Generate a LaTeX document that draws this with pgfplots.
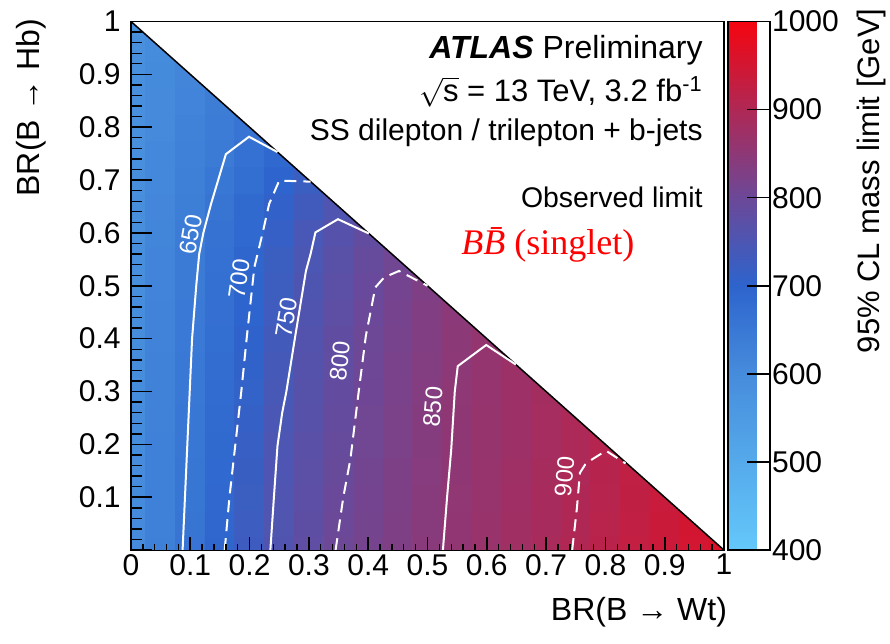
\documentclass[border=0pt]{standalone}
\usepackage{pgfplots}
\pgfplotsset{compat=1.18}
\usepackage{fontspec}
\setmainfont{Liberation Sans}
\newfontfamily\tnr{Liberation Serif}
\newcommand{\fs}[1]{\fontsize{#1}{#1}\selectfont}
\pgfplotsset{colormap={atlas}{rgb255(0cm)=(100,200,250) rgb255(1cm)=(85,170,235) rgb255(2cm)=(70,140,220) rgb255(3cm)=(45,100,205) rgb255(4cm)=(108,72,152) rgb255(5cm)=(175,40,85) rgb255(6cm)=(245,5,15)}}
\begin{document}
\begin{tikzpicture}
\begin{axis}[
  name=ax, scale only axis, width=296.5pt, height=264.3pt,
  xmin=0, xmax=1, ymin=0, ymax=1,
  axis on top,
  axis line style={black, line width=0.6pt},
  xtick={0,0.1,0.2,0.3,0.4,0.5,0.6,0.7,0.8,0.9,1},
  xticklabels={0,0.1,0.2,0.3,0.4,0.5,0.6,0.7,0.8,0.9,1},
  ytick=\empty,
  minor x tick num=4,
  xtick pos=bottom,
  tick align=inside, major tick length=6.5pt, minor tick length=3pt,
  major tick style={draw=black, line width=0.8pt},
  minor tick style={draw=black, line width=0.7pt},
  tick label style={font=\fs{15}},
  xticklabel style={yshift=1.5pt},
  every axis x label/.style={at={(rel axis cs:1,0)}, xshift=5pt, yshift=-20pt, anchor=north east, font=\fs{16}},
  every axis y label/.style={at={(rel axis cs:0,1)}, xshift=-39pt, yshift=5pt, rotate=90, anchor=south east, font=\fs{16}},
  xlabel={BR(B → Wt)},
  ylabel={BR(B → Hb)},
  colormap name=atlas,
  point meta min=400, point meta max=1000,
  colorbar,
  colorbar style={at={(parent axis.north east)}, anchor=north west, xshift=-6.5pt, width=21pt,
    ytick={400,500,600,700,800,900,1000},
    yticklabels={400,500,600,700,800,900,1000},
    ytick pos=right, yticklabel pos=right,
    tick align=inside, major tick length=11.5pt,
    major tick style={draw=black, line width=0.8pt},
    axis line style={black, line width=0.6pt},
    yticklabel style={font=\fs{15}, xshift=-2.5pt},
    every axis y label/.style={at={(rel axis cs:1,1)}, xshift=40pt, yshift=10pt, rotate=90, anchor=north east, font=\fs{15.5}},
    ylabel={95\% CL mass limit [GeV]}},
]
\addplot[matrix plot*, mesh/cols=21, point meta=explicit] table[row sep=\\, meta index=2] {
x y z\\
0 0 605\\ 0.05 0 631\\ 0.1 0 659\\ 0.15 0 694\\ 0.2 0 727\\ 0.25 0 757\\ 0.3 0 780\\ 0.35 0 801\\ 0.4 0 815\\ 0.45 0 829\\ 0.5 0 843\\ 0.55 0 856\\ 0.6 0 867\\ 0.65 0 878\\ 0.7 0 890\\ 0.75 0 902\\ 0.8 0 914\\ 0.85 0 927\\ 0.9 0 940\\ 0.95 0 952\\ 1 0 965\\
0 0.05 604\\ 0.05 0.05 630\\ 0.1 0.05 658\\ 0.15 0.05 692\\ 0.2 0.05 725\\ 0.25 0.05 755\\ 0.3 0.05 777\\ 0.35 0.05 800\\ 0.4 0.05 814\\ 0.45 0.05 828\\ 0.5 0.05 842\\ 0.55 0.05 855\\ 0.6 0.05 866\\ 0.65 0.05 878\\ 0.7 0.05 889\\ 0.75 0.05 901\\ 0.8 0.05 913\\ 0.85 0.05 926\\ 0.9 0.05 939\\ 0.95 0.05 951\\ 1 0.05 951\\
0 0.1 603\\ 0.05 0.1 629\\ 0.1 0.1 656\\ 0.15 0.1 689\\ 0.2 0.1 723\\ 0.25 0.1 754\\ 0.3 0.1 775\\ 0.35 0.1 797\\ 0.4 0.1 812\\ 0.45 0.1 826\\ 0.5 0.1 841\\ 0.55 0.1 854\\ 0.6 0.1 865\\ 0.65 0.1 877\\ 0.7 0.1 888\\ 0.75 0.1 900\\ 0.8 0.1 912\\ 0.85 0.1 925\\ 0.9 0.1 938\\ 0.95 0.1 938\\ 1 0.1 938\\
0 0.15 602\\ 0.05 0.15 628\\ 0.1 0.15 655\\ 0.15 0.15 687\\ 0.2 0.15 720\\ 0.25 0.15 752\\ 0.3 0.15 773\\ 0.35 0.15 794\\ 0.4 0.15 810\\ 0.45 0.15 825\\ 0.5 0.15 839\\ 0.55 0.15 853\\ 0.6 0.15 864\\ 0.65 0.15 876\\ 0.7 0.15 887\\ 0.75 0.15 898\\ 0.8 0.15 911\\ 0.85 0.15 924\\ 0.9 0.15 924\\ 0.95 0.15 924\\ 1 0.15 924\\
0 0.2 601\\ 0.05 0.2 627\\ 0.1 0.2 653\\ 0.15 0.2 684\\ 0.2 0.2 717\\ 0.25 0.2 751\\ 0.3 0.2 771\\ 0.35 0.2 791\\ 0.4 0.2 808\\ 0.45 0.2 823\\ 0.5 0.2 838\\ 0.55 0.2 852\\ 0.6 0.2 863\\ 0.65 0.2 874\\ 0.7 0.2 886\\ 0.75 0.2 897\\ 0.8 0.2 909\\ 0.85 0.2 909\\ 0.9 0.2 909\\ 0.95 0.2 909\\ 1 0.2 909\\
0 0.25 600\\ 0.05 0.25 626\\ 0.1 0.25 652\\ 0.15 0.25 682\\ 0.2 0.25 713\\ 0.25 0.25 747\\ 0.3 0.25 769\\ 0.35 0.25 789\\ 0.4 0.25 807\\ 0.45 0.25 822\\ 0.5 0.25 837\\ 0.55 0.25 852\\ 0.6 0.25 863\\ 0.65 0.25 874\\ 0.7 0.25 885\\ 0.75 0.25 896\\ 0.8 0.25 896\\ 0.85 0.25 896\\ 0.9 0.25 896\\ 0.95 0.25 896\\ 1 0.25 896\\
0 0.3 599\\ 0.05 0.3 625\\ 0.1 0.3 651\\ 0.15 0.3 679\\ 0.2 0.3 709\\ 0.25 0.3 742\\ 0.3 0.3 766\\ 0.35 0.3 786\\ 0.4 0.3 805\\ 0.45 0.3 820\\ 0.5 0.3 836\\ 0.55 0.3 851\\ 0.6 0.3 862\\ 0.65 0.3 873\\ 0.7 0.3 884\\ 0.75 0.3 884\\ 0.8 0.3 884\\ 0.85 0.3 884\\ 0.9 0.3 884\\ 0.95 0.3 884\\ 1 0.3 884\\
0 0.35 598\\ 0.05 0.35 624\\ 0.1 0.35 650\\ 0.15 0.35 678\\ 0.2 0.35 706\\ 0.25 0.35 738\\ 0.3 0.35 763\\ 0.35 0.35 783\\ 0.4 0.35 803\\ 0.45 0.35 819\\ 0.5 0.35 834\\ 0.55 0.35 850\\ 0.6 0.35 861\\ 0.65 0.35 872\\ 0.7 0.35 872\\ 0.75 0.35 872\\ 0.8 0.35 872\\ 0.85 0.35 872\\ 0.9 0.35 872\\ 0.95 0.35 872\\ 1 0.35 872\\
0 0.4 597\\ 0.05 0.4 623\\ 0.1 0.4 648\\ 0.15 0.4 676\\ 0.2 0.4 703\\ 0.25 0.4 734\\ 0.3 0.4 760\\ 0.35 0.4 781\\ 0.4 0.4 801\\ 0.45 0.4 817\\ 0.5 0.4 833\\ 0.55 0.4 848\\ 0.6 0.4 860\\ 0.65 0.4 860\\ 0.7 0.4 860\\ 0.75 0.4 860\\ 0.8 0.4 860\\ 0.85 0.4 860\\ 0.9 0.4 860\\ 0.95 0.4 860\\ 1 0.4 860\\
0 0.45 596\\ 0.05 0.45 622\\ 0.1 0.45 647\\ 0.15 0.45 673\\ 0.2 0.45 700\\ 0.25 0.45 729\\ 0.3 0.45 756\\ 0.35 0.45 778\\ 0.4 0.45 799\\ 0.45 0.45 815\\ 0.5 0.45 831\\ 0.55 0.45 847\\ 0.6 0.45 847\\ 0.65 0.45 847\\ 0.7 0.45 847\\ 0.75 0.45 847\\ 0.8 0.45 847\\ 0.85 0.45 847\\ 0.9 0.45 847\\ 0.95 0.45 847\\ 1 0.45 847\\
0 0.5 595\\ 0.05 0.5 620\\ 0.1 0.5 645\\ 0.15 0.5 671\\ 0.2 0.5 697\\ 0.25 0.5 726\\ 0.3 0.5 753\\ 0.35 0.5 774\\ 0.4 0.5 795\\ 0.45 0.5 812\\ 0.5 0.5 828\\ 0.55 0.5 828\\ 0.6 0.5 828\\ 0.65 0.5 828\\ 0.7 0.5 828\\ 0.75 0.5 828\\ 0.8 0.5 828\\ 0.85 0.5 828\\ 0.9 0.5 828\\ 0.95 0.5 828\\ 1 0.5 828\\
0 0.55 594\\ 0.05 0.55 619\\ 0.1 0.55 643\\ 0.15 0.55 668\\ 0.2 0.55 694\\ 0.25 0.55 722\\ 0.3 0.55 750\\ 0.35 0.55 770\\ 0.4 0.55 790\\ 0.45 0.55 808\\ 0.5 0.55 808\\ 0.55 0.55 808\\ 0.6 0.55 808\\ 0.65 0.55 808\\ 0.7 0.55 808\\ 0.75 0.55 808\\ 0.8 0.55 808\\ 0.85 0.55 808\\ 0.9 0.55 808\\ 0.95 0.55 808\\ 1 0.55 808\\
0 0.6 593\\ 0.05 0.6 616\\ 0.1 0.6 640\\ 0.15 0.6 664\\ 0.2 0.6 688\\ 0.25 0.6 715\\ 0.3 0.6 744\\ 0.35 0.6 765\\ 0.4 0.6 785\\ 0.45 0.6 785\\ 0.5 0.6 785\\ 0.55 0.6 785\\ 0.6 0.6 785\\ 0.65 0.6 785\\ 0.7 0.6 785\\ 0.75 0.6 785\\ 0.8 0.6 785\\ 0.85 0.6 785\\ 0.9 0.6 785\\ 0.95 0.6 785\\ 1 0.6 785\\
0 0.65 592\\ 0.05 0.65 614\\ 0.1 0.65 635\\ 0.15 0.65 658\\ 0.2 0.65 684\\ 0.25 0.65 708\\ 0.3 0.65 732\\ 0.35 0.65 754\\ 0.4 0.65 754\\ 0.45 0.65 754\\ 0.5 0.65 754\\ 0.55 0.65 754\\ 0.6 0.65 754\\ 0.65 0.65 754\\ 0.7 0.65 754\\ 0.75 0.65 754\\ 0.8 0.65 754\\ 0.85 0.65 754\\ 0.9 0.65 754\\ 0.95 0.65 754\\ 1 0.65 754\\
0 0.7 591\\ 0.05 0.7 611\\ 0.1 0.7 631\\ 0.15 0.7 652\\ 0.2 0.7 676\\ 0.25 0.7 700\\ 0.3 0.7 723\\ 0.35 0.7 723\\ 0.4 0.7 723\\ 0.45 0.7 723\\ 0.5 0.7 723\\ 0.55 0.7 723\\ 0.6 0.7 723\\ 0.65 0.7 723\\ 0.7 0.7 723\\ 0.75 0.7 723\\ 0.8 0.7 723\\ 0.85 0.7 723\\ 0.9 0.7 723\\ 0.95 0.7 723\\ 1 0.7 723\\
0 0.75 590\\ 0.05 0.75 609\\ 0.1 0.75 628\\ 0.15 0.75 646\\ 0.2 0.75 668\\ 0.25 0.75 691\\ 0.3 0.75 691\\ 0.35 0.75 691\\ 0.4 0.75 691\\ 0.45 0.75 691\\ 0.5 0.75 691\\ 0.55 0.75 691\\ 0.6 0.75 691\\ 0.65 0.75 691\\ 0.7 0.75 691\\ 0.75 0.75 691\\ 0.8 0.75 691\\ 0.85 0.75 691\\ 0.9 0.75 691\\ 0.95 0.75 691\\ 1 0.75 691\\
0 0.8 589\\ 0.05 0.8 606\\ 0.1 0.8 624\\ 0.15 0.8 641\\ 0.2 0.8 661\\ 0.25 0.8 661\\ 0.3 0.8 661\\ 0.35 0.8 661\\ 0.4 0.8 661\\ 0.45 0.8 661\\ 0.5 0.8 661\\ 0.55 0.8 661\\ 0.6 0.8 661\\ 0.65 0.8 661\\ 0.7 0.8 661\\ 0.75 0.8 661\\ 0.8 0.8 661\\ 0.85 0.8 661\\ 0.9 0.8 661\\ 0.95 0.8 661\\ 1 0.8 661\\
0 0.85 588\\ 0.05 0.85 605\\ 0.1 0.85 621\\ 0.15 0.85 637\\ 0.2 0.85 637\\ 0.25 0.85 637\\ 0.3 0.85 637\\ 0.35 0.85 637\\ 0.4 0.85 637\\ 0.45 0.85 637\\ 0.5 0.85 637\\ 0.55 0.85 637\\ 0.6 0.85 637\\ 0.65 0.85 637\\ 0.7 0.85 637\\ 0.75 0.85 637\\ 0.8 0.85 637\\ 0.85 0.85 637\\ 0.9 0.85 637\\ 0.95 0.85 637\\ 1 0.85 637\\
0 0.9 587\\ 0.05 0.9 603\\ 0.1 0.9 618\\ 0.15 0.9 618\\ 0.2 0.9 618\\ 0.25 0.9 618\\ 0.3 0.9 618\\ 0.35 0.9 618\\ 0.4 0.9 618\\ 0.45 0.9 618\\ 0.5 0.9 618\\ 0.55 0.9 618\\ 0.6 0.9 618\\ 0.65 0.9 618\\ 0.7 0.9 618\\ 0.75 0.9 618\\ 0.8 0.9 618\\ 0.85 0.9 618\\ 0.9 0.9 618\\ 0.95 0.9 618\\ 1 0.9 618\\
0 0.95 586\\ 0.05 0.95 601\\ 0.1 0.95 601\\ 0.15 0.95 601\\ 0.2 0.95 601\\ 0.25 0.95 601\\ 0.3 0.95 601\\ 0.35 0.95 601\\ 0.4 0.95 601\\ 0.45 0.95 601\\ 0.5 0.95 601\\ 0.55 0.95 601\\ 0.6 0.95 601\\ 0.65 0.95 601\\ 0.7 0.95 601\\ 0.75 0.95 601\\ 0.8 0.95 601\\ 0.85 0.95 601\\ 0.9 0.95 601\\ 0.95 0.95 601\\ 1 0.95 601\\
0 1 585\\ 0.05 1 585\\ 0.1 1 585\\ 0.15 1 585\\ 0.2 1 585\\ 0.25 1 585\\ 0.3 1 585\\ 0.35 1 585\\ 0.4 1 585\\ 0.45 1 585\\ 0.5 1 585\\ 0.55 1 585\\ 0.6 1 585\\ 0.65 1 585\\ 0.7 1 585\\ 0.75 1 585\\ 0.8 1 585\\ 0.85 1 585\\ 0.9 1 585\\ 0.95 1 585\\ 1 1 585\\
};
\addplot[fill=white, draw=none, forget plot] coordinates {(0,1) (1,1) (1,0) (0,1)};
\addplot[black, line width=0.75pt, forget plot] coordinates {(0,1) (1,0)};
% contours
\addplot[white, line width=1pt] coordinates {(0.087,0) (0.091,0.1) (0.095,0.2) (0.099,0.3) (0.103,0.4) (0.110,0.5) (0.115,0.56) (0.122,0.6) (0.135,0.655) (0.147,0.70) (0.160,0.749) (0.199,0.782) (0.247,0.753)};
\addplot[white, line width=1pt, dash pattern=on 6pt off 3.5pt] coordinates {(0.158,0) (0.166,0.1) (0.176,0.2) (0.186,0.3) (0.195,0.4) (0.208,0.535) (0.222,0.60) (0.233,0.655) (0.250,0.699) (0.303,0.697)};
\addplot[white, line width=1pt] coordinates {(0.235,0) (0.241,0.1) (0.247,0.197) (0.255,0.26) (0.262,0.3) (0.277,0.405) (0.295,0.528) (0.303,0.561) (0.311,0.601) (0.349,0.626) (0.401,0.599)};
\addplot[white, line width=1pt, dash pattern=on 6pt off 3.5pt] coordinates {(0.345,0) (0.358,0.1) (0.370,0.172) (0.384,0.3) (0.396,0.405) (0.412,0.497) (0.427,0.516) (0.452,0.528) (0.5,0.5)};
\addplot[white, line width=1pt] coordinates {(0.526,0) (0.533,0.1) (0.540,0.19) (0.546,0.3) (0.551,0.348) (0.599,0.388) (0.649,0.351)};
\addplot[white, line width=1pt, dash pattern=on 6pt off 3.5pt] coordinates {(0.744,0) (0.752,0.08) (0.757,0.146) (0.766,0.162) (0.778,0.172) (0.801,0.188) (0.834,0.164)};
% contour labels
\node[white, font=\fs{12}, rotate=80] at (axis cs:0.101,0.597) {650};
\node[white, font=\fs{12}, rotate=82] at (axis cs:0.182,0.513) {700};
\node[white, font=\fs{12}, rotate=80] at (axis cs:0.262,0.44) {750};
\node[white, font=\fs{12}, rotate=84] at (axis cs:0.352,0.358) {800};
\node[white, font=\fs{12}, rotate=85] at (axis cs:0.509,0.271) {850};
\node[white, font=\fs{12}, rotate=85] at (axis cs:0.731,0.139) {900};
% annotations
\node[anchor=base east, inner sep=0pt, font=\fs{16}, xshift=-10.5pt, yshift=-18.4pt] at (rel axis cs:1,1) {{\bfseries\itshape ATLAS} Preliminary};
\node[anchor=base east, inner sep=0pt, font=\fs{15.5}, xshift=-10.5pt, yshift=-40.1pt] at (rel axis cs:1,1) {$\sqrt{\mbox{s}}$ = 13 TeV, 3.2 fb\textsuperscript{-1}};
\node[anchor=base east, inner sep=0pt, font=\fs{15}, xshift=-10.5pt, yshift=-59.25pt] at (rel axis cs:1,1) {SS dilepton / trilepton + b-jets};
\node[anchor=base east, inner sep=0pt, font=\fs{14.2}, xshift=-10.5pt, yshift=-93.25pt] at (rel axis cs:1,1) {Observed limit};
\node[anchor=base, inner sep=0pt, font=\fs{18}, text=red, yshift=-116.75pt] at (rel axis cs:0.703,1) {\tnr{\itshape B\={B}} (singlet)};
\end{axis}
% overlay axis carrying the y ticks (longer ticks than on x)
\begin{axis}[
  at={(ax.south west)}, anchor=south west,
  scale only axis, width=296.5pt, height=264.3pt,
  xmin=0, xmax=1, ymin=0, ymax=1,
  hide x axis, axis y line*=left,
  axis line style={black, line width=0.6pt},
  ytick={0,0.1,0.2,0.3,0.4,0.5,0.6,0.7,0.8,0.9,1},
  yticklabels={,0.1,0.2,0.3,0.4,0.5,0.6,0.7,0.8,0.9,1},
  minor y tick num=4,
  tick align=inside, major tick length=10.5pt, minor tick length=5.5pt,
  major tick style={draw=black, line width=0.8pt},
  minor tick style={draw=black, line width=0.7pt},
  tick label style={font=\fs{15}},
  yticklabel style={xshift=-1.7pt},
]
\end{axis}
\pgfresetboundingbox
\path[use as bounding box] ([shift={(-65.5pt,-46.5pt)}]ax.south west) rectangle ([shift={(83pt,10.75pt)}]ax.north east);
\end{tikzpicture}
\end{document}
